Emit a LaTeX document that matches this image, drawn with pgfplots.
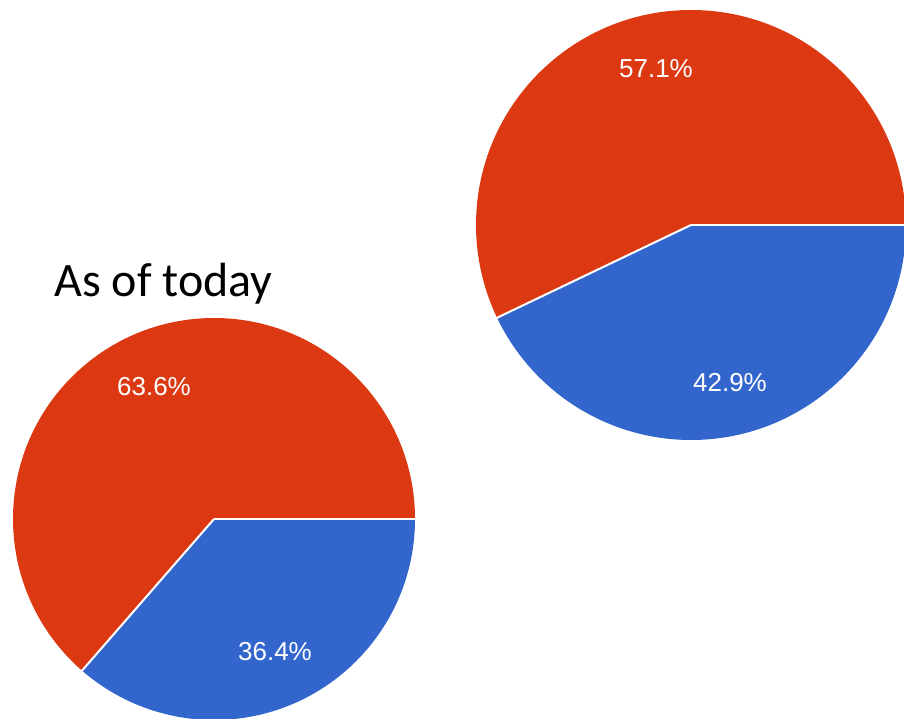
\documentclass[border=0pt]{standalone}
\usepackage{pgfplots}
\pgfplotsset{compat=1.18}
\usepackage{fontspec}
\setmainfont{Liberation Sans}
\newfontfamily\calfont{Carlito}
\definecolor{gred}{HTML}{DC3912}
\definecolor{gblue}{HTML}{3366CC}
% data (percent)
\def\LeftRed{63.6}\def\LeftBlue{36.4}
\def\RightRed{57.1}\def\RightBlue{42.9}
\begin{document}
\begin{tikzpicture}
\useasboundingbox (0,0) rectangle (452pt,359pt);
\begin{scope}[overlay]
\clip (0,0) rectangle (452pt,359pt);
\begin{axis}[at={(0,0)},anchor=south west,width=452pt,height=359pt,scale only axis,
  xmin=0,xmax=904,ymin=0,ymax=718,hide axis,clip=true]
% left pie
\fill[gblue] (axis cs:214,199) -- ++(0:100.5pt) arc[start angle=0,end angle={-3.6*\LeftBlue},radius=100.5pt] -- cycle;
\fill[gred] (axis cs:214,199) -- ++(0:100.5pt) arc[start angle=0,end angle={3.6*\LeftRed},radius=100.5pt] -- cycle;
\draw[white,line width=1pt] (axis cs:214,199) -- ++(0:101pt);
\draw[white,line width=1pt] (axis cs:214,199) -- ++({-3.6*\LeftBlue}:101pt);
% right pie
\fill[gblue] (axis cs:691,493) -- ++(0:107.5pt) arc[start angle=0,end angle={-3.6*\RightBlue},radius=107.5pt] -- cycle;
\fill[gred] (axis cs:691,493) -- ++(0:107.5pt) arc[start angle=0,end angle={3.6*\RightRed},radius=107.5pt] -- cycle;
\draw[white,line width=1pt] (axis cs:691,493) -- ++(0:109pt);
\draw[white,line width=1pt] (axis cs:691,493) -- ++({-3.6*\RightBlue}:108pt);
% labels
\node[white,font=\fontsize{13}{13}\selectfont] at (axis cs:154,331) {63.6\%};
\node[white,font=\fontsize{13}{13}\selectfont] at (axis cs:275,66) {36.4\%};
\node[white,font=\fontsize{13}{13}\selectfont] at (axis cs:656,649) {57.1\%};
\node[white,font=\fontsize{13}{13}\selectfont] at (axis cs:730,335) {42.9\%};
\node[anchor=base west,inner sep=0pt,font=\calfont\fontsize{24}{24}\selectfont] at (axis cs:54,421) {As of today};
\end{axis}
\end{scope}
\end{tikzpicture}
\end{document}
